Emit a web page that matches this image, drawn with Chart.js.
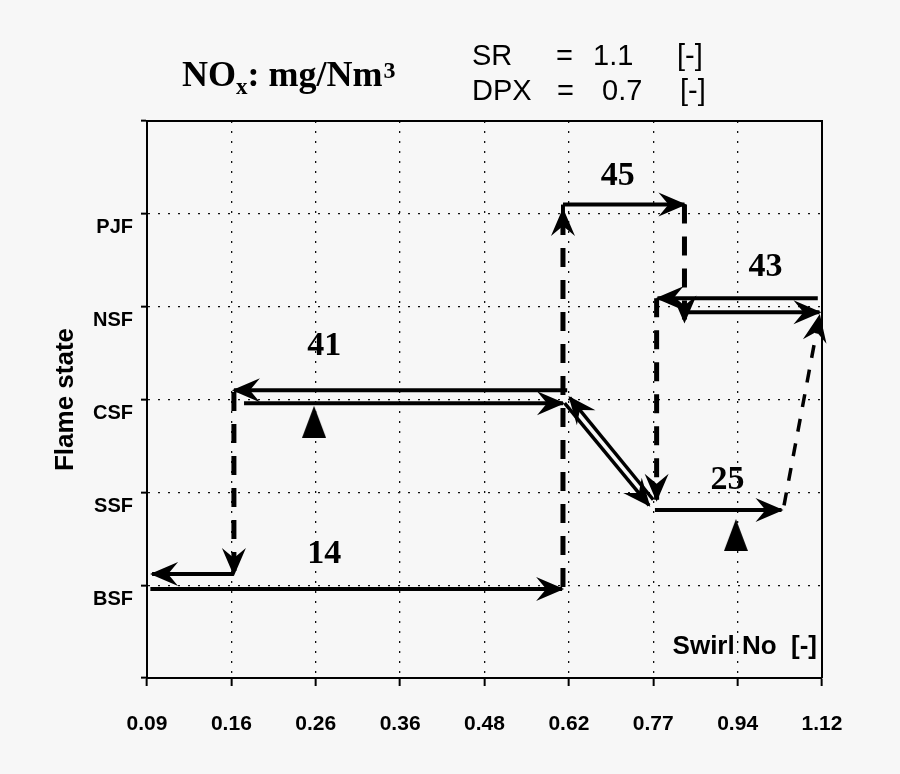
<!DOCTYPE html>
<html>
<head>
<meta charset="utf-8">
<script src="https://cdn.jsdelivr.net/npm/chart.js@4/dist/chart.umd.min.js"></script>
<style>
html,body{margin:0;padding:0;background:#f7f7f7;}
#wrap{width:900px;height:774px;position:relative;}
</style>
</head>
<body>
<div id="wrap"><canvas id="c" width="900" height="774"></canvas></div>
<script>
// ---- axis labels ----
const swirlTicks = ['0.09','0.16','0.26','0.36','0.48','0.62','0.77','0.94','1.12'];
const flameStates = ['', 'BSF', 'SSF', 'CSF', 'NSF', 'PJF', ''];

// ---- paths (x = swirl tick index, y = flame state level) ----
const bsfRise     = [{x:0.04,y:0.96},{x:4.92,y:0.96}];
const bsfReturn   = [{x:1.03,y:1.12},{x:0.06,y:1.12}];
const csfDrop     = [{x:1.03,y:3.08},{x:1.03,y:1.12}];
const csfDecrease = [{x:4.98,y:3.10},{x:1.03,y:3.10}];
const csfIncrease = [{x:1.15,y:2.96},{x:4.93,y:2.96}];
const diagDown    = [{x:4.95,y:2.96},{x:5.95,y:1.86}];
const diagUp      = [{x:6.00,y:1.92},{x:5.01,y:3.02}];
const ssfIncrease = [{x:6.02,y:1.81},{x:7.52,y:1.81}];
const ssfJump     = [{x:7.55,y:1.86},{x:7.97,y:3.90}];
const bsfJump     = [{x:4.93,y:0.98},{x:4.93,y:5.04}];
const pjfIncrease = [{x:4.93,y:5.10},{x:6.37,y:5.10}];
const pjfDrop     = [{x:6.37,y:5.10},{x:6.37,y:3.84}];
const nsfDecrease = [{x:7.95,y:4.09},{x:6.05,y:4.09}];
const nsfIncrease = [{x:6.40,y:3.94},{x:7.97,y:3.94}];
const nsfDrop     = [{x:6.04,y:4.09},{x:6.04,y:1.92}];
const bsfToPjfStem = [{x:4.93,y:5.00},{x:4.93,y:5.10}];

// ---- markers and NOx values ----
const markerPoints = [{x:1.98,y:2.76},{x:6.98,y:1.54}];
const noxValues = ['41','14','45','43','25'];
const noxPositions = [{x:2.10,y:3.57},{x:2.10,y:1.33},{x:5.58,y:5.41},{x:7.33,y:4.42},{x:6.88,y:2.13}];

const solidPaths  = [bsfRise, bsfReturn, csfDecrease, csfIncrease, pjfIncrease, nsfDecrease, nsfIncrease, ssfIncrease];
const dashedPaths = [csfDrop, bsfJump, pjfDrop, nsfDrop];
const thinDashedPaths = [ssfJump];
const thinPaths = [diagDown, diagUp];

const datasets = [];
solidPaths.forEach(p => datasets.push({data:p, borderColor:'#000', borderWidth:4, pointRadius:0, arrow:true, borderCapStyle:'butt'}));
dashedPaths.forEach(p => datasets.push({data:p, borderColor:'#000', borderWidth:5, borderDash:[19,13], pointRadius:0, arrow:true}));
thinDashedPaths.forEach(p => datasets.push({data:p, borderColor:'#000', borderWidth:3.5, borderDash:[13,12], pointRadius:0, arrow:true}));
thinPaths.forEach(p => datasets.push({data:p, borderColor:'#000', borderWidth:3.5, pointRadius:0, arrow:true}));
datasets.push({data:bsfToPjfStem, borderColor:'#000', borderWidth:4, pointRadius:0, arrow:false});

const tri = document.createElement('canvas');
tri.width = 24; tri.height = 32;
(function(){const t = tri.getContext('2d'); t.fillStyle='#000'; t.beginPath(); t.moveTo(12,0); t.lineTo(24,32); t.lineTo(0,32); t.closePath(); t.fill();})();
datasets.push({type:'scatter', data:markerPoints, showLine:false, pointStyle:tri, pointRadius:14, backgroundColor:'#000', borderColor:'#000'});

function drawArrowHead(ctx, x1, y1, x2, y2) {
  const a = Math.atan2(y2 - y1, x2 - x1);
  const len = 26, half = 12, notch = 10;
  ctx.save();
  ctx.translate(x2, y2);
  ctx.rotate(a);
  ctx.fillStyle = '#000';
  ctx.beginPath();
  ctx.moveTo(2, 0);
  ctx.lineTo(-len, -half);
  ctx.lineTo(-len + notch, 0);
  ctx.lineTo(-len, half);
  ctx.closePath();
  ctx.fill();
  ctx.restore();
}

const decorPlugin = {
  id: 'decor',
  beforeDatasetsDraw(chart) {
    const {ctx, chartArea: a} = chart;
    ctx.save();
    ctx.strokeStyle = '#000';
    ctx.lineWidth = 2;
    ctx.beginPath();
    ctx.moveTo(a.left, a.top); ctx.lineTo(a.right, a.top); ctx.lineTo(a.right, a.bottom);
    ctx.stroke();
    ctx.restore();
  },
  afterDatasetsDraw(chart) {
    const {ctx} = chart;
    const xs = chart.scales.x, ys = chart.scales.y;
    chart.data.datasets.forEach((ds, i) => {
      if (!ds.arrow) return;
      const pts = chart.getDatasetMeta(i).data;
      const p1 = pts[pts.length - 2], p2 = pts[pts.length - 1];
      drawArrowHead(ctx, p1.x, p1.y, p2.x, p2.y);
    });
    ctx.save();
    ctx.fillStyle = '#000';
    ctx.textAlign = 'center';
    ctx.textBaseline = 'middle';
    ctx.font = 'bold 34px "Liberation Serif", "Times New Roman", serif';
    noxValues.forEach((t, i) => {
      ctx.fillText(t, xs.getPixelForValue(noxPositions[i].x), ys.getPixelForValue(noxPositions[i].y));
    });
    // axis caption inside plot
    ctx.textAlign = 'right';
    ctx.textBaseline = 'alphabetic';
    ctx.font = 'bold 26px "Liberation Sans", Arial, sans-serif';
    ctx.fillText('Swirl No  [-]', 817, 654);
    // title
    ctx.textAlign = 'left';
    ctx.font = 'bold 36px "Liberation Serif", serif';
    let x = 182;
    ctx.fillText('NO', x, 86); x += ctx.measureText('NO').width;
    ctx.font = 'bold 23px "Liberation Serif", serif';
    ctx.fillText('x', x, 94); x += ctx.measureText('x').width;
    ctx.font = 'bold 36px "Liberation Serif", serif';
    ctx.fillText(': mg/Nm', x, 86); x += ctx.measureText(': mg/Nm').width;
    ctx.font = 'bold 24px "Liberation Serif", serif';
    ctx.fillText('3', x + 1, 78);
    // parameters
    ctx.font = '29px "Liberation Sans", Arial, sans-serif';
    const row1 = [['SR',472],['=',556],['1.1',593],['[-]',677]];
    const row2 = [['DPX',472],['=',557],['0.7',602],['[-]',680]];
    row1.forEach(r => ctx.fillText(r[0], r[1], 65));
    row2.forEach(r => ctx.fillText(r[0], r[1], 100));
    ctx.restore();
  }
};

new Chart(document.getElementById('c'), {
  type: 'line',
  data: {datasets},
  options: {
    responsive: false,
    animation: false,
    layout: {padding: {left: 0, top: 121, right: 78, bottom: 0}},
    plugins: {legend: {display: false}, tooltip: {enabled: false}},
    scales: {
      x: {
        type: 'linear', min: 0, max: 8,
        afterFit: s => { s.height = 96; },
        ticks: {stepSize: 1, autoSkip: false, maxRotation: 0, padding: 26, color: '#000',
          callback: v => swirlTicks[v],
          font: {family: '"Liberation Sans", Arial, sans-serif', weight: 'bold', size: 21}},
        grid: {color: '#111', lineWidth: 1.3, tickLength: 8, tickColor: '#000', tickWidth: 2},
        border: {display: true, color: '#000', width: 2, dash: [2, 8]}
      },
      y: {
        type: 'linear', min: 0, max: 6,
        afterFit: s => { s.width = 147; },
        ticks: {stepSize: 1, autoSkip: false, padding: 8, labelOffset: 14, color: '#000',
          callback: v => flameStates[v],
          font: {family: '"Liberation Sans", Arial, sans-serif', weight: 'bold', size: 20}},
        grid: {color: '#111', lineWidth: 1.3, tickLength: 6, tickColor: '#000', tickWidth: 2},
        border: {display: true, color: '#000', width: 2, dash: [2, 8]},
        title: {display: true, text: 'Flame state', color: '#000', padding: {top: 50, bottom: 0},
          font: {family: '"Liberation Sans", Arial, sans-serif', weight: 'bold', size: 26}}
      }
    }
  },
  plugins: [decorPlugin]
});
</script>
</body>
</html>
